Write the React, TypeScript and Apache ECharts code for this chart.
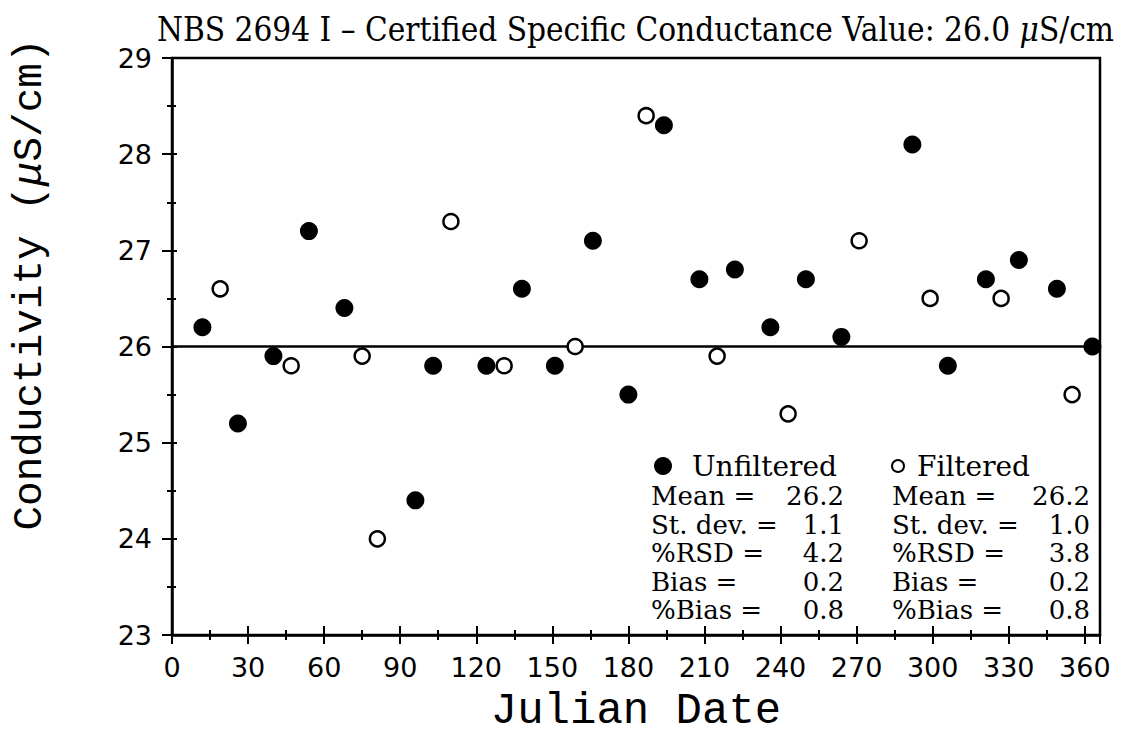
import React, { useEffect, useRef } from "react";
import * as echarts from "echarts";

// ---- data ----
const unfilteredDay = [12, 26, 40, 54, 68, 96, 103, 124, 138, 151, 166, 180, 194, 208, 222, 236, 250, 264, 292, 306, 321, 334, 349, 363];
const unfilteredValue = [26.2, 25.2, 25.9, 27.2, 26.4, 24.4, 25.8, 25.8, 26.6, 25.8, 27.1, 25.5, 28.3, 26.7, 26.8, 26.2, 26.7, 26.1, 28.1, 25.8, 26.7, 26.9, 26.6, 26.0];
const filteredDay = [19, 47, 75, 81, 110, 131, 159, 187, 215, 243, 271, 299, 327, 355];
const filteredValue = [26.6, 25.8, 25.9, 24.0, 27.3, 25.8, 26.0, 28.4, 25.9, 25.3, 27.1, 26.5, 26.5, 25.5];
const certifiedValue = 26.0;
const dayRange = [0, 366];
const valueRange = [23, 29];
const statLabels = ["Mean =", "St. dev. =", "%RSD =", "Bias =", "%Bias ="];
const unfilteredStats = ["26.2", "1.1", "4.2", "0.2", "0.8"];
const filteredStats = ["26.2", "1.0", "3.8", "0.2", "0.8"];

const SERIF = "'DejaVu Serif', serif";
const COND = "'DejaVu Serif Condensed', 'DejaVu Serif', serif";
const SANS = "'DejaVu Sans', sans-serif";
const MONO = "'Liberation Mono', monospace";

export default function App() {
  const ref = useRef<HTMLDivElement>(null);
  useEffect(() => {
    if (!ref.current) return;
    const chart = echarts.init(ref.current, null, { renderer: "svg" });

    const unfData = unfilteredDay.map((d, i) => [d, unfilteredValue[i]]);
    const filData = filteredDay.map((d, i) => [d, filteredValue[i]]);
    const certData = [[dayRange[0], certifiedValue], [dayRange[1], certifiedValue]];

    const statGraphics: any[] = [];
    const rowY = [496, 524.5, 553, 581.5, 610];
    statLabels.forEach((lab, i) => {
      const st = { fontFamily: SERIF, fontSize: 26, fill: "#000", textVerticalAlign: "middle" };
      statGraphics.push({ type: "text", x: 651, y: rowY[i], style: { ...st, text: lab, textAlign: "left" } });
      statGraphics.push({ type: "text", x: 844, y: rowY[i], style: { ...st, text: unfilteredStats[i], textAlign: "right" } });
      statGraphics.push({ type: "text", x: 892, y: rowY[i], style: { ...st, text: lab, textAlign: "left" } });
      statGraphics.push({ type: "text", x: 1090, y: rowY[i], style: { ...st, text: filteredStats[i], textAlign: "right" } });
    });

    const axisCommon = {
      type: "value" as const,
      splitLine: { show: false },
    };

    chart.setOption({
      animation: false,
      backgroundColor: "#fff",
      title: {
        text: "NBS 2694 I – Certified Specific Conductance Value: 26.0 {i|μ}S/cm",
        right: 9,
        top: 8,
        textStyle: {
          fontFamily: COND,
          fontSize: 33,
          fontWeight: "normal",
          color: "#000",
          rich: { i: { fontFamily: COND, fontStyle: "italic", fontSize: 33, color: "#000" } },
        },
      },
      grid: {
        left: 172,
        right: 28,
        top: 58,
        bottom: 112,
        show: true,
        borderColor: "#000",
        borderWidth: 2.5,
        backgroundColor: "transparent",
      },
      xAxis: [
        {
          ...axisCommon,
          min: dayRange[0],
          max: dayRange[1],
          interval: 30,
          name: "Julian Date",
          nameLocation: "middle",
          nameGap: 54,
          nameTextStyle: { fontFamily: MONO, fontSize: 44, color: "#000" },
          axisLine: { show: true, lineStyle: { color: "#000", width: 2.5 } },
          axisTick: { show: true, inside: false, length: 9, lineStyle: { color: "#000", width: 2 } },
          minorTick: { show: true, splitNumber: 2, length: 5, lineStyle: { color: "#000", width: 2 } },
          axisLabel: {
            show: true,
            margin: 19,
            fontFamily: SANS,
            fontSize: 27,
            color: "#000",
            showMaxLabel: false,
            formatter: (v: number) => (v % 30 === 0 ? String(v) : ""),
          },
        },
        {
          ...axisCommon,
          min: dayRange[0],
          max: dayRange[1],
          interval: 30,
          position: "bottom",
          offset: 0,
          axisLine: { show: false },
          axisTick: { show: true, inside: true, length: 9, lineStyle: { color: "#000", width: 2 } },
          minorTick: { show: true, splitNumber: 2, length: 5, lineStyle: { color: "#000", width: 2 } },
          axisLabel: { show: false },
        },
      ],
      yAxis: [
        {
          ...axisCommon,
          min: valueRange[0],
          max: valueRange[1],
          interval: 1,
          name: "Conductivity ({i|μ}S/cm)",
          nameLocation: "middle",
          nameGap: 122,
          nameTextStyle: {
            fontFamily: MONO,
            fontSize: 41,
            color: "#000",
            padding: [0, 0, 0, 124],
            rich: { i: { fontFamily: MONO, fontStyle: "italic", fontSize: 41, color: "#000" } },
          },
          axisLine: { show: true, lineStyle: { color: "#000", width: 2.5 } },
          axisTick: { show: true, inside: false, length: 10, lineStyle: { color: "#000", width: 2 } },
          minorTick: { show: true, splitNumber: 2, length: 5, lineStyle: { color: "#000", width: 2 } },
          axisLabel: { show: true, margin: 20, fontFamily: SANS, fontSize: 27, color: "#000" },
        },
        {
          ...axisCommon,
          min: valueRange[0],
          max: valueRange[1],
          interval: 1,
          position: "left",
          offset: 0,
          axisLine: { show: false },
          axisTick: { show: true, inside: true, length: 5, lineStyle: { color: "#000", width: 2 } },
          minorTick: { show: true, splitNumber: 2, length: 4, lineStyle: { color: "#000", width: 2 } },
          axisLabel: { show: false },
        },
      ],
      series: [
        {
          type: "line",
          data: certData,
          symbol: "none",
          lineStyle: { color: "#000", width: 2.5 },
          z: 1,
        },
        {
          type: "scatter",
          name: "Unfiltered",
          data: unfData,
          symbol: "circle",
          symbolSize: 18,
          itemStyle: { color: "#000", opacity: 1 },
          z: 3,
        },
        {
          type: "scatter",
          name: "Filtered",
          data: filData,
          symbol: "circle",
          symbolSize: 15,
          itemStyle: { color: "#fff", borderColor: "#000", borderWidth: 2.5, opacity: 1 },
          z: 4,
        },
      ],
      graphic: [
        { type: "circle", shape: { cx: 663, cy: 466, r: 9 }, style: { fill: "#000" } },
        { type: "circle", shape: { cx: 898, cy: 466, r: 6 }, style: { fill: "#fff", stroke: "#000", lineWidth: 2 } },
        { type: "text", x: 692, y: 466, style: { text: "Unfiltered", fontFamily: SERIF, fontSize: 28, fill: "#000", textVerticalAlign: "middle" } },
        { type: "text", x: 917, y: 466, style: { text: "Filtered", fontFamily: SERIF, fontSize: 28, fill: "#000", textVerticalAlign: "middle" } },
        ...statGraphics,
      ],
    });
    return () => chart.dispose();
  }, []);
  return (
    <div
      ref={ref}
      style={{ position: "absolute", left: 0, top: 0, width: 1128, height: 747, background: "#fff" }}
    />
  );
}
